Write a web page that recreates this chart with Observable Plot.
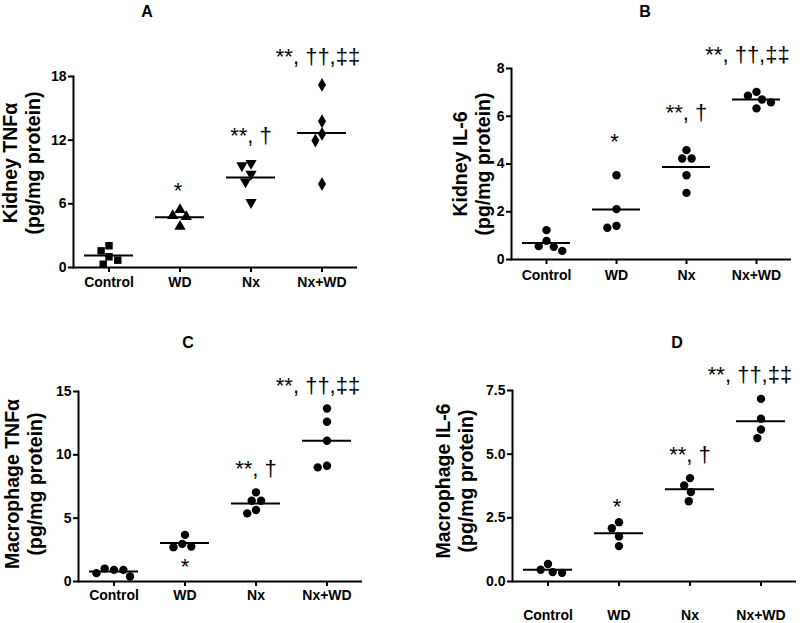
<!DOCTYPE html>
<html><head><meta charset="utf-8">
<script src="https://cdn.jsdelivr.net/npm/d3@7"></script>
<script src="https://cdn.jsdelivr.net/npm/@observablehq/plot@0.6"></script>
<style>
body{margin:0;background:#fff;font-family:"Liberation Sans",Arial,sans-serif;}
#root{position:relative;width:800px;height:623px;overflow:hidden;background:#fff;}
.ttl{position:absolute;font-weight:bold;font-size:16px;transform:translate(-50%,-50%);color:#000;}
.ylab{position:absolute;font-weight:bold;font-size:19.5px;line-height:23px;text-align:center;white-space:nowrap;transform:translate(-50%,-50%) rotate(-90deg);color:#000;}
</style></head><body><div id="root"></div>
<script>
// ---- data ----
const groups = ["Control", "WD", "Nx", "Nx+WD"];

// A: Kidney TNFα (pg/mg protein)
const kidneyTNFa = [
  [2.05, 1.01, 1.57, 0.69, 0.31],
  [5.44, 4.88, 4.78, 3.87],
  [9.82, 9.60, 8.81, 8.09, 6.14],
  [17.21, 13.78, 12.59, 11.96, 7.87]
];
// B: Kidney IL-6
const kidneyIL6 = [
  [1.23, 0.78, 0.56, 0.53, 0.36],
  [3.53, 2.11, 1.41, 1.33],
  [4.58, 4.23, 4.23, 3.53, 2.79],
  [7.02, 6.86, 6.70, 6.58, 6.33]
];
// C: Macrophage TNFα
const macTNFa = [
  [0.92, 1.02, 0.92, 0.66, 0.39],
  [3.68, 2.97, 2.76, 2.71],
  [7.04, 6.38, 6.38, 5.65, 5.38],
  [13.66, 12.61, 11.11, 9.14, 9.01]
];
// D: Macrophage IL-6
const macIL6 = [
  [0.69, 0.46, 0.37, 0.34],
  [2.33, 2.09, 1.77, 1.39],
  [4.06, 3.77, 3.51, 3.15],
  [7.17, 6.39, 5.97, 5.63]
];

const sigA = ["", "*", "**, †", "**, ††,‡‡"];
const sigB = ["", "*", "**, †", "**, ††,‡‡"];
const sigC = ["", "", "**, †", "**, ††,‡‡"];
const sigCBelow = ["", "*", "", ""];
const sigD = ["", "*", "**, †", "**, ††,‡‡"];

const ticksA = [0, 6, 12, 18];
const ticksB = [0, 2, 4, 6, 8];
const ticksC = [0, 5, 10, 15];
const ticksD = [0, 2.5, 5, 7.5];

const titles = ["A", "B", "C", "D"];
const yLabels = [
  ["Kidney TNFα", "(pg/mg protein)"],
  ["Kidney IL-6", "(pg/mg protein)"],
  ["Macrophage TNFα", "(pg/mg protein)"],
  ["Macrophage IL-6", "(pg/mg protein)"]
];

// ---- symbols ----
const sqrt3 = Math.sqrt(3);
const triangleDown = {
  draw(context, size) {
    const y = -Math.sqrt(size / (sqrt3 * 3));
    context.moveTo(0, -y * 2);
    context.lineTo(-sqrt3 * y, y);
    context.lineTo(sqrt3 * y, y);
    context.closePath();
  }
};
const symbolsA = [d3.symbolSquare, d3.symbolTriangle, triangleDown, d3.symbolDiamond];

const root = document.getElementById("root");

function panel(cfg) {
  const rows = [];
  cfg.values.forEach((arr, i) => arr.forEach(v => rows.push({g: groups[i], v})));
  const means = groups.map((g, i) => ({g, m: d3.mean(cfg.values[i])}));
  const notes = groups.map((g, i) => ({
    g, top: d3.max(cfg.values[i]), bot: d3.min(cfg.values[i]),
    s: cfg.sig[i], b: cfg.sigBelow ? cfg.sigBelow[i] : ""
  }));
  const dotMarks = groups.map((g, i) =>
    Plot.dot(rows.filter(d => d.g === g), Plot.dodgeX("middle", {
      fx: "g", y: "v", r: 4.2, padding: 0.5, fill: "black", stroke: null,
      symbol: cfg.symbols ? cfg.symbols[i] : "circle"
    }))
  );
  const txt = {fontSize: 22, fontWeight: "normal", fill: "black", fontFamily: "Liberation Sans, Arial, sans-serif"};
  const isLong = d => d.s.includes("‡");
  const svg = Plot.plot({
    width: cfg.w, height: cfg.h,
    marginLeft: cfg.m[0], marginTop: cfg.m[1], marginRight: cfg.m[2], marginBottom: cfg.m[3],
    fx: {domain: groups, padding: 0, label: null, axis: null},
    y: {domain: cfg.domain, axis: null},
    style: {fontFamily: "Liberation Sans, Arial, sans-serif", fontSize: "14px", fontWeight: "bold", color: "black", background: "transparent", overflow: "visible"},
    marks: [
      Plot.ruleY([0], {strokeWidth: 2}),
      Plot.frame({anchor: "left", facetAnchor: "left", strokeWidth: 2}),
      Plot.axisY({ticks: cfg.ticks, tickFormat: cfg.fmt, tickSize: 5, tickPadding: 2, strokeWidth: 2, label: null}),
      Plot.axisFx({anchor: "bottom", tickSize: 5, tickPadding: cfg.tp, strokeWidth: 2, label: null}),
      Plot.tickY(means, {fx: "g", y: "m", strokeWidth: 2, insetLeft: 11, insetRight: 11}),
      ...dotMarks,
      Plot.text(notes.filter(d => d.s !== "*" && !isLong(d)), {fx: "g", y: "top", text: "s", dy: cfg.sigDy, ...txt}),
      Plot.text(notes.filter(isLong), {fx: "g", y: "top", text: "s", dy: cfg.sigDy, dx: cfg.longDx, ...txt}),
      Plot.text(notes.filter(d => d.s === "*"), {fx: "g", y: "top", text: "s", dy: cfg.starDy, dx: -2, ...txt}),
      Plot.text(notes, {fx: "g", y: "bot", text: "b", dy: 20, ...txt})
    ]
  });
  svg.style.position = "absolute";
  svg.style.left = cfg.left + "px";
  svg.style.top = cfg.top + "px";
  root.appendChild(svg);

  const t = document.createElement("div");
  t.className = "ttl";
  t.textContent = cfg.title;
  t.style.left = cfg.titlePos[0] + "px";
  t.style.top = cfg.titlePos[1] + "px";
  root.appendChild(t);

  const yl = document.createElement("div");
  yl.className = "ylab";
  yl.innerHTML = cfg.ylab[0] + "<br>" + cfg.ylab[1];
  yl.style.left = cfg.ylabPos[0] + "px";
  yl.style.top = cfg.ylabPos[1] + "px";
  root.appendChild(yl);
}

panel({values: kidneyTNFa, sig: sigA, symbols: symbolsA, domain: [0, 18], ticks: ticksA, fmt: d3.format("d"),
  left: 0, top: 0, w: 400, h: 300, m: [72, 76, 42, 33], tp: 5, sigDy: -27.5, starDy: -19, longDx: -4,
  title: titles[0], titlePos: [147, 12], ylab: yLabels[0], ylabPos: [21.5, 163]});
panel({values: kidneyIL6, sig: sigB, domain: [0, 8], ticks: ticksB, fmt: d3.format("d"),
  left: 400, top: 0, w: 400, h: 300, m: [111, 68, 9, 41], tp: 6, sigDy: -37, starDy: -33, longDx: -9,
  title: titles[1], titlePos: [645, 12], ylab: yLabels[1], ylabPos: [71.5 + 400, 164]});
panel({values: macTNFa, sig: sigC, sigBelow: sigCBelow, domain: [0, 15], ticks: ticksC, fmt: d3.format("d"),
  left: 0, top: 300, w: 400, h: 323, m: [77, 91, 38, 42], tp: 4, sigDy: -23, starDy: -19, longDx: -9,
  title: titles[2], titlePos: [188, 343], ylab: yLabels[2], ylabPos: [24, 484]});
panel({values: macIL6, sig: sigD, domain: [0, 7.5], ticks: ticksD, fmt: d3.format(".1f"),
  left: 400, top: 300, w: 400, h: 323, m: [111, 90, 3, 42], tp: 24, sigDy: -23.5, starDy: -15, longDx: -11,
  title: titles[3], titlePos: [677, 343], ylab: yLabels[3], ylabPos: [455, 481]});
</script>
</body></html>
